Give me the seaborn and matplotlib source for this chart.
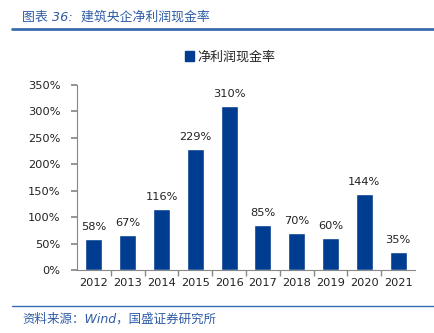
import matplotlib
matplotlib.use("Agg")
import matplotlib.pyplot as plt
import seaborn as sns
import pandas as pd
from matplotlib.lines import Line2D

years = ["2012", "2013", "2014", "2015", "2016", "2017", "2018", "2019", "2020", "2021"]
values = [58, 67, 116, 229, 310, 85, 70, 60, 144, 35]
series_name = "净利润现金率"
title = "图表 36:  建筑央企净利润现金率"
source = "资料来源：Wind，国盛证券研究所"

sns.set_theme(style="white")
plt.rcParams['font.family'] = ['DejaVu Sans', 'Noto Sans CJK SC']

bar_color = "#003C8F"
title_color = "#2F5BA6"
fs = 8.2

df = pd.DataFrame({"year": years, "value": values})

fig = plt.figure(figsize=(4.35, 3.33), dpi=100)
ax = fig.add_axes([77/435, 1-270/333, 338/435, 185/333])
sns.barplot(data=df, x="year", y="value", color=bar_color, width=0.5, ax=ax,
            saturation=1, label=series_name)
ax.set_xlim(-0.5, 9.5)
ax.set_ylim(0, 350)
ax.set_yticks(range(0, 351, 50))
ax.set_yticklabels([f"{v}%" for v in range(0, 351, 50)], fontsize=fs, color="#222222")
ax.set_xticks(range(len(years)))
ax.set_xticklabels(years, fontsize=fs, color="#222222")
ax.set_xlabel("")
ax.set_ylabel("")
for s in ["top", "right"]:
    ax.spines[s].set_visible(False)
for s in ["left", "bottom"]:
    ax.spines[s].set_color("#888888")
    ax.spines[s].set_linewidth(0.8)
ax.tick_params(axis="y", which="major", length=4, color="#888888", left=True, pad=8)
ax.tick_params(axis="x", which="major", length=0, pad=6)
ax.set_xticks([i + 0.5 for i in range(len(years) - 1)], minor=True)
ax.tick_params(axis="x", which="minor", length=4, color="#888888", bottom=True)

for c in ax.containers:
    ax.bar_label(c, labels=[f"{v}%" for v in values], padding=5, fontsize=fs, color="#222222")

leg = ax.legend(handles=[plt.Rectangle((0, 0), 1, 1, color=bar_color)], labels=[series_name],
                loc="center", bbox_to_anchor=(0.453, 1.151), frameon=False,
                handlelength=0.75, handleheight=0.75, handletextpad=0.25,
                prop={"family": ["Noto Sans CJK SC"], "size": 9.4})

fig.text(22/435, 1-17/333, title, fontsize=9.3, color=title_color, style="italic",
         family=["DejaVu Sans", "Noto Sans CJK SC"], va="center", ha="left")
fig.add_artist(Line2D([12/435, 1.0], [1-29/333, 1-29/333], color="#3A6AAE", linewidth=2))
fig.add_artist(Line2D([12/435, 1.0], [1-306/333, 1-306/333], color="#3A6AAE", linewidth=1))
fig.text(22/435, 1-319/333, source, fontsize=9, color=title_color, style="italic",
         family=["DejaVu Sans", "Noto Sans CJK SC"], va="center", ha="left")

fig.savefig("out.png", dpi=100)
